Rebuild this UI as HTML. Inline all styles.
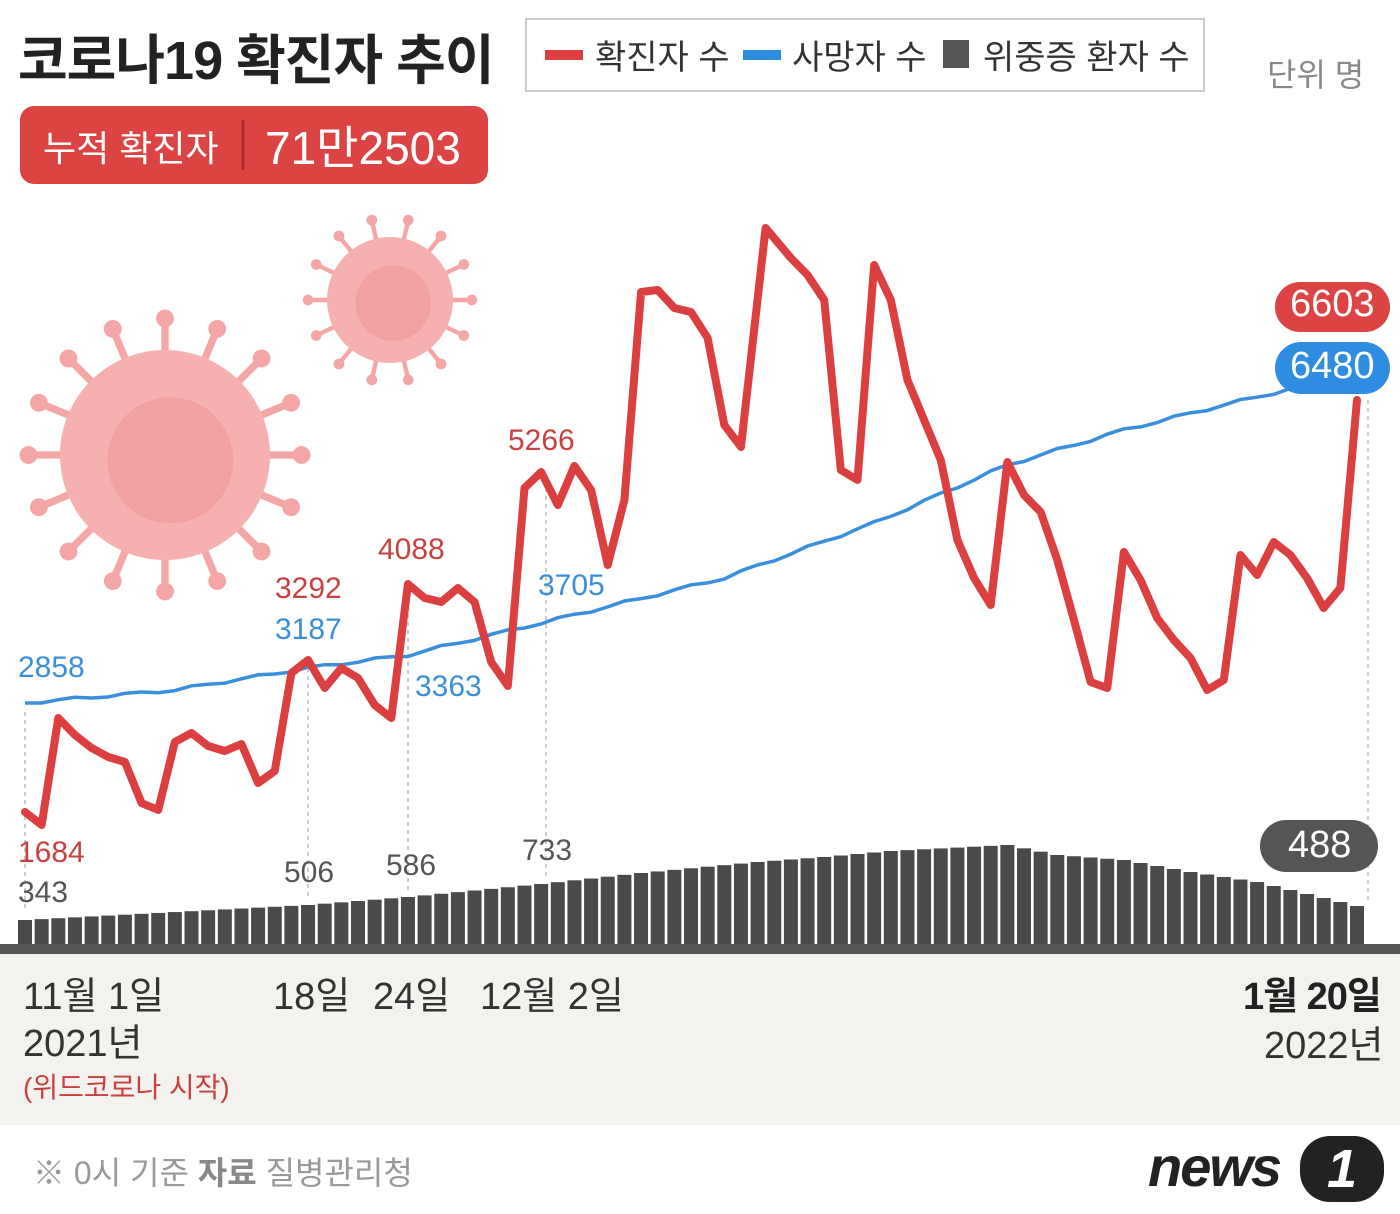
<!DOCTYPE html>
<html><head><meta charset="utf-8">
<style>
html,body{margin:0;padding:0;background:#fff;}
body{width:1400px;height:1214px;position:relative;overflow:hidden;font-family:"Liberation Sans","Noto Sans CJK KR",sans-serif;}
.t{position:absolute;white-space:nowrap;}
</style></head><body>
<svg id="s" width="1400" height="1214" style="position:absolute;left:0;top:0" xmlns="http://www.w3.org/2000/svg">
<rect x="0" y="952" width="1400" height="173" fill="#f4f2ee"/>
<rect x="0" y="1125" width="1400" height="89" fill="#fff"/>
<g id="virus" fill="#f4a5a5"></g>
<g id="dash" stroke="#bbb" stroke-width="1.5" stroke-dasharray="4,4">
<line x1="25" y1="712" x2="25" y2="912"/>
<line x1="308" y1="668" x2="308" y2="900"/>
<line x1="408" y1="590" x2="408" y2="892"/>
<line x1="546" y1="480" x2="546" y2="880"/>
<line x1="1368" y1="400" x2="1368" y2="900"/>
</g>
<g id="bars" fill="#4a4a4a"></g>
<rect x="0" y="944" width="1400" height="10" fill="#555"/>
<polyline id="blue" fill="none" stroke="#3a8fdc" stroke-width="3.5"/>
<polyline id="red" fill="none" stroke="#dc3f3f" stroke-width="8" stroke-linejoin="round" stroke-linecap="round"/>
<rect x="526" y="19" width="678" height="72" fill="#fff" stroke="#ccc" stroke-width="2"/>
<rect x="545" y="50" width="38" height="10" fill="#dc3f3f"/>
<rect x="743" y="50" width="38" height="10" fill="#2e8de0"/>
<rect x="943" y="40" width="26" height="28" fill="#555"/>
<rect x="20" y="106" width="468" height="78" rx="14" fill="#dc4444"/>
<line x1="243" y1="120" x2="243" y2="170" stroke="#b02a2a" stroke-width="3"/>
<rect x="1275" y="282" width="115" height="50" rx="25" fill="#dc4444"/>
<rect x="1275" y="342" width="115" height="52" rx="26" fill="#2e8de0"/>
<rect x="1260" y="820" width="118" height="52" rx="26" fill="#555"/>
</svg>
<div class="t" style="left:18px;top:16px;font-size:54px;font-weight:bold;color:#222;letter-spacing:-1px">코로나19 확진자 추이</div>
<div class="t" style="left:595px;top:30px;font-size:34px;color:#333">확진자 수</div>
<div class="t" style="left:792px;top:30px;font-size:34px;color:#333">사망자 수</div>
<div class="t" style="left:983px;top:30px;font-size:34px;color:#333">위중증 환자 수</div>
<div class="t" style="left:1267px;top:50px;font-size:32px;color:#888">단위 명</div>
<div class="t" style="left:43px;top:120px;font-size:36px;color:#fff">누적 확진자</div>
<div class="t" style="left:265px;top:112px;font-size:46px;color:#fff">71만2503</div>
<div class="t" style="left:1290px;top:283px;font-size:38px;color:#fff">6603</div>
<div class="t" style="left:1290px;top:345px;font-size:38px;color:#fff">6480</div>
<div class="t" style="left:1288px;top:824px;font-size:38px;color:#fff">488</div>
<div class="t" style="left:18px;top:651px;font-size:30px;color:#3a8fdc">2858</div>
<div class="t" style="left:275px;top:572px;font-size:30px;color:#c94040">3292</div>
<div class="t" style="left:275px;top:613px;font-size:30px;color:#3a8fdc">3187</div>
<div class="t" style="left:378px;top:533px;font-size:30px;color:#c94040">4088</div>
<div class="t" style="left:415px;top:670px;font-size:30px;color:#3a8fdc">3363</div>
<div class="t" style="left:508px;top:424px;font-size:30px;color:#c94040">5266</div>
<div class="t" style="left:538px;top:569px;font-size:30px;color:#3a8fdc">3705</div>
<div class="t" style="left:18px;top:836px;font-size:30px;color:#c94040">1684</div>
<div class="t" style="left:18px;top:876px;font-size:30px;color:#555">343</div>
<div class="t" style="left:284px;top:856px;font-size:30px;color:#555">506</div>
<div class="t" style="left:386px;top:849px;font-size:30px;color:#555">586</div>
<div class="t" style="left:522px;top:834px;font-size:30px;color:#555">733</div>
<div class="t" style="left:23px;top:965px;font-size:38px;color:#333">11월 1일</div>
<div class="t" style="left:23px;top:1012px;font-size:38px;color:#333">2021년</div>
<div class="t" style="left:23px;top:1066px;font-size:28px;color:#c94040">(위드코로나 시작)</div>
<div class="t" style="left:273px;top:965px;font-size:38px;color:#333">18일</div>
<div class="t" style="left:373px;top:965px;font-size:38px;color:#333">24일</div>
<div class="t" style="left:480px;top:965px;font-size:38px;color:#333">12월 2일</div>
<div class="t" style="left:1243px;top:965px;font-size:38px;color:#222;font-weight:bold;letter-spacing:-1px">1월 20일</div>
<div class="t" style="left:1264px;top:1014px;font-size:38px;color:#333">2022년</div>
<div class="t" style="left:33px;top:1148px;font-size:32px;color:#999">※ 0시 기준 <b style="color:#888">자료</b> 질병관리청</div>
<div class="t" style="left:1148px;top:1134px;font-size:56px;color:#222;font-weight:bold;font-style:italic;letter-spacing:-2px">news</div>
<div class="t" style="left:1300px;top:1136px;width:84px;height:66px;background:#222;border-radius:30px;color:#fff;font-size:54px;font-weight:bold;font-style:italic;text-align:center;line-height:66px">1</div>
<script>
var NS="http://www.w3.org/2000/svg";
function X(d){return 25+d*16.65;}
var ry=[812,825,718,735,748,757,762,803,810,742,733,746,751,744,783,771,673,660,688,668,678,705,718,584,598,602,588,602,662,686,488,472,505,466,490,565,500,292,290,308,312,338,425,447,300,228,258,275,300,470,480,265,300,380,420,460,540,578,605,462,495,512,560,620,682,688,552,580,618,640,658,690,680,555,575,542,555,578,608,588,400];
var p=[];for(var i=0;i<ry.length;i++)p.push(X(i)+","+ry[i]);
p[44]=(X(44)+8)+",228";
ry.splice(0,0);
document.getElementById("red").setAttribute("points",p.filter(function(v,i){return i!=45;}).join(" "));
var bk=[[0,703],[9,690],[17,668],[23,655],[31,623],[42,578],[51,523],[59,465],[66,430],[72,405],[77,385],[80,372]];
function interp(k,d){for(var j=0;j<k.length-1;j++){if(d<=k[j+1][0]){var t=(d-k[j][0])/(k[j+1][0]-k[j][0]);return k[j][1]+t*(k[j+1][1]-k[j][1]);}}return k[k.length-1][1];}
var bp=[];for(var d=0;d<=80;d++)bp.push(X(d)+","+(interp(bk,d)+Math.sin(d*1.7)*1.5).toFixed(1));
document.getElementById("blue").setAttribute("points",bp.join(" "));
var tk=[[0,920],[17,905],[23,897],[31,884],[37,873],[44,862],[48,857],[52,851],[59,845],[62,855],[66,860],[70,872],[74,882],[80,906]];
var g=document.getElementById("bars");
for(var d=0;d<=80;d++){var r=document.createElementNS(NS,"rect");var y=interp(tk,d);r.setAttribute("x",X(d)-7);r.setAttribute("y",y);r.setAttribute("width",14);r.setAttribute("height",952-y);g.appendChild(r);}
var v=document.getElementById("virus");
function virus(cx,cy,R,n){
 for(var i=0;i<n;i++){var a=i/n*Math.PI*2;var l=document.createElementNS(NS,"line");
 l.setAttribute("x1",cx);l.setAttribute("y1",cy);l.setAttribute("x2",cx+Math.cos(a)*(R+R*0.28));l.setAttribute("y2",cy+Math.sin(a)*(R+R*0.28));
 l.setAttribute("stroke","#f4a5a5");l.setAttribute("stroke-width",R*0.07);v.appendChild(l);
 var c=document.createElementNS(NS,"circle");c.setAttribute("cx",cx+Math.cos(a)*(R*1.3));c.setAttribute("cy",cy+Math.sin(a)*(R*1.3));c.setAttribute("r",R*0.085);v.appendChild(c);}
 var c=document.createElementNS(NS,"circle");c.setAttribute("cx",cx);c.setAttribute("cy",cy);c.setAttribute("r",R);c.setAttribute("fill","#f6b0b0");v.appendChild(c);
 var c2=document.createElementNS(NS,"circle");c2.setAttribute("cx",cx+R*0.05);c2.setAttribute("cy",cy+R*0.05);c2.setAttribute("r",R*0.6);c2.setAttribute("fill","#f09898");c2.setAttribute("opacity","0.6");v.appendChild(c2);
}
virus(165,455,105,16);
virus(390,300,63,14);
</script>
</body></html>
